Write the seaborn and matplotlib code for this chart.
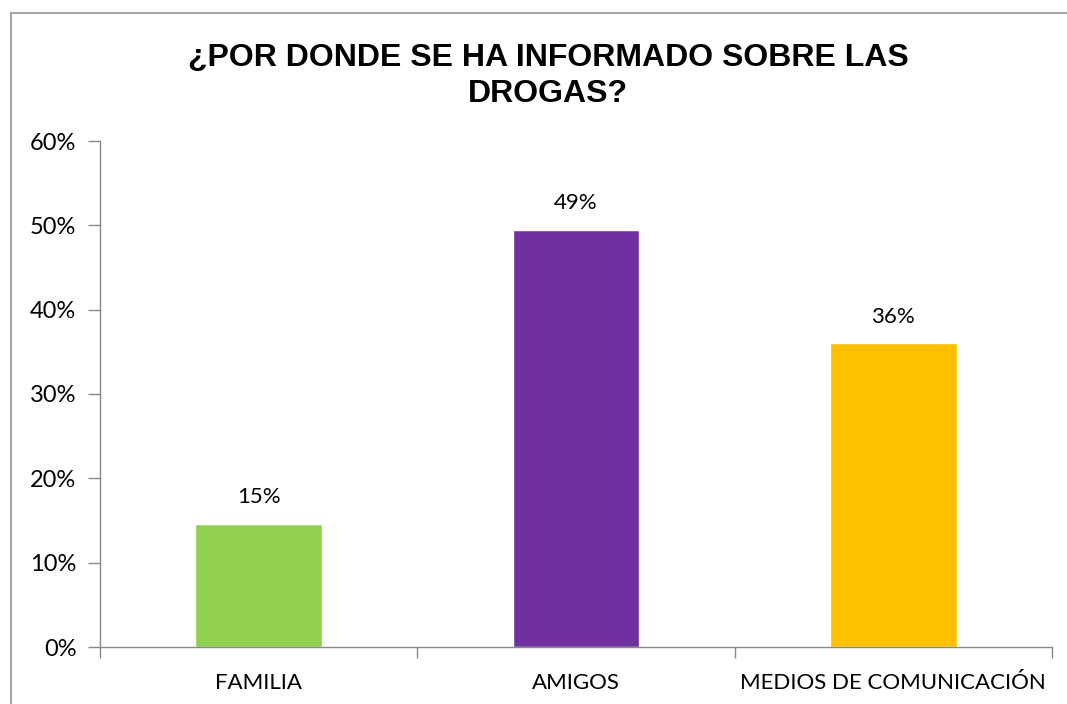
import matplotlib
matplotlib.use('Agg')
import matplotlib.pyplot as plt
import matplotlib.patches as patches
from matplotlib.ticker import PercentFormatter
import seaborn as sns
import pandas as pd

# data
categorias = ['FAMILIA', 'AMIGOS', 'MEDIOS DE COMUNICACIÓN']
valores = [14.6, 49.5, 36.0]
etiquetas = ['15%', '49%', '36%']
colores = ['#92D050', '#7030A0', '#FFC000']

df = pd.DataFrame({'fuente': categorias, 'valor': valores})

sns.set_style('white')
plt.rcParams['font.family'] = ['Lato', 'DejaVu Sans']

fig = plt.figure(figsize=(10.67, 7.04), dpi=100)
ax = fig.add_axes([100/1067, 1 - 647/704, 952/1067, 506/704])

sns.barplot(data=df, x='fuente', y='valor', hue='fuente', palette=colores,
            width=0.4, legend=False, ax=ax, saturation=1)

for i, (v, t) in enumerate(zip(valores, etiquetas)):
    ax.text(i, v + 2.0, t, ha='center', va='bottom', fontsize=16, color='black')

ax.set_ylim(0, 60)
ax.set_xlim(-0.5, 2.5)
ax.set_yticks(range(0, 61, 10))
ax.yaxis.set_major_formatter(PercentFormatter(decimals=0))
ax.set_xlabel('')
ax.set_ylabel('')

for s in ['top', 'right']:
    ax.spines[s].set_visible(False)
for s in ['left', 'bottom']:
    ax.spines[s].set_color('#888888')
    ax.spines[s].set_linewidth(1)

ax.tick_params(axis='y', which='major', left=True, length=9, width=1,
               color='#888888', labelsize=17, labelcolor='black', pad=8)
ax.tick_params(axis='x', which='major', bottom=False, labelsize=16,
               labelcolor='black', pad=15)
ax.set_xticks([-0.5, 0.5, 1.5, 2.5], minor=True)
ax.tick_params(axis='x', which='minor', bottom=True, length=8, width=1,
               color='#888888')

fig.text(548/1067, 1 - 76/704, '¿POR DONDE SE HA INFORMADO SOBRE LAS\nDROGAS?',
         ha='center', va='center', fontsize=23, fontweight='bold', color='black',
         family=['Liberation Sans', 'DejaVu Sans'], linespacing=1.25)

# outer chart border
fig.patches.append(patches.Rectangle((11/1067, -0.1), 1.2, 1 - 13/704 + 0.1,
                                     transform=fig.transFigure, fill=False,
                                     edgecolor='#a6a6a6', linewidth=1.5))

fig.savefig('out.png', dpi=100)
